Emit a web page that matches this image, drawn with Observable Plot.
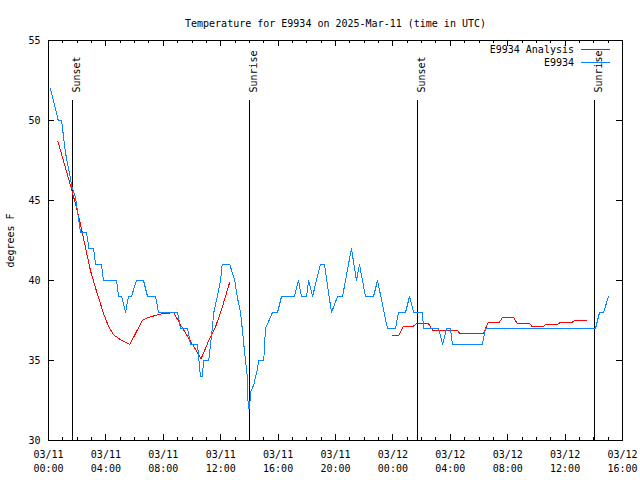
<!DOCTYPE html>
<html><head><meta charset="utf-8">
<script src="https://cdn.jsdelivr.net/npm/d3@7"></script>
<script src="https://cdn.jsdelivr.net/npm/@observablehq/plot@0.6"></script>
<style>
body{margin:0;background:#fff;}
#chart{position:relative;width:640px;height:480px;}
</style></head><body><div id="chart"></div>
<script>
const titleText = "Temperature for E9934 on 2025-Mar-11 (time in UTC)";
const yLabel = "degrees F";
const obsName = "E9934";
const anaName = "E9934 Analysis";

// hours after 2025-03-11 00:00 UTC
const obsHours = [0.14,0.68,0.91,1.18,1.65,1.88,2.23,2.65,2.82,3.14,
3.28,3.69,3.83,4.74,4.88,5.09,5.37,5.57,5.78,6.13,
6.62,6.90,7.46,7.67,8.99,9.20,9.69,9.90,10.38,10.59,
10.71,10.82,11.17,11.41,11.52,11.76,11.99,12.10,12.63,12.98,
13.15,13.38,13.50,13.61,13.85,13.92,14.01,14.08,14.31,14.54,
14.65,15.00,15.12,15.61,15.96,16.24,17.14,17.42,17.63,17.98,
18.12,18.40,18.95,19.23,19.72,20.14,20.49,21.11,21.46,21.67,
22.09,22.65,22.93,23.62,24.18,24.39,24.88,25.16,25.44,26.06,
26.13,27.18,27.46,27.74,28.01,28.15,30.24,30.45,38.12,38.40,
38.68,39.02];
const obsTemps = [52,50,50,48,45.8,45.2,43,43,42,42,
41,41,40,40,39,39,38,39,39,40,
40,39,39,38,38,37,37,36,36,34,
34,35,35,37,38,39,40,41,41,40,
39,38,37,36,34,32,32,33,33.5,34.4,
35,35,37,38,38,39,39,40,39,39,
40,39,41,41,38,39,39,42,40,41,
39,39,40,37,37,38,38,39,38,38,
37,37,36,37,37,36,36,37,37,38,
38,39];

const anaHours1 = [0.65,1.64,2.11,2.93,3.39,3.85,4.20,4.55,5.02,5.67,6.53,6.99,7.80,8.73,9.15,10.24,10.63,11.17,11.64,12.10,12.63];
const anaTemps1 = [48.7,45.6,44.0,40.6,39.2,37.9,37.1,36.6,36.3,36.0,37.5,37.7,37.9,38.0,37.3,35.7,35.1,36.25,37.1,38.3,39.9];
const anaHours2 = [23.97,24.39,24.74,25.44,25.64,26.48,26.76,28.50,28.64,30.31,30.66,31.43,31.64,32.40,32.68,33.52,33.73,34.49,34.63,35.47,35.68,36.52,36.66,37.49];
const anaTemps2 = [36.55,36.55,37.15,37.15,37.3,37.3,36.9,36.9,36.7,36.7,37.4,37.4,37.7,37.7,37.3,37.3,37.1,37.1,37.25,37.25,37.4,37.4,37.5,37.5];

const sunHours = [1.69,14.01,25.71,38.05];
const sunLabels = ["Sunset","Sunrise","Sunset","Sunrise"];

const yTicks = [30,35,40,45,50,55];
const xMajorHours = [0,4,8,12,16,20,24,28,32,36,40];
const xTickDay = ["03/11","03/11","03/11","03/11","03/11","03/11","03/12","03/12","03/12","03/12","03/12"];
const xTickTime = ["00:00","04:00","08:00","12:00","16:00","20:00","00:00","04:00","08:00","12:00","16:00"];
const xMinorHours = d3.range(0, 41, 1);

const base = Date.UTC(2025, 2, 11);
const toDate = h => new Date(base + h * 3600e3);

const obs = obsHours.map((h, i) => ({t: toDate(h), v: obsTemps[i]}));
const ana = [
  ...anaHours1.map((h, i) => ({t: toDate(h), v: anaTemps1[i], seg: 1})),
  ...anaHours2.map((h, i) => ({t: toDate(h), v: anaTemps2[i], seg: 2}))
];

const W = 640, H = 480, ML = 48, MR = 18, MT = 40, MB = 40;
const PW = W - ML - MR, PH = H - MT - MB;
const BLUE = "#0a84ff", RED = "#ff0000";
const FONT = "DejaVu Sans Mono";

const majors = xMajorHours.map(toDate);
const minors = xMinorHours.map(toDate);

const chart = Plot.plot({
  width: W, height: H,
  marginLeft: ML, marginRight: MR, marginTop: MT, marginBottom: MB,
  style: {fontFamily: FONT, fontSize: "10px", background: "#fff", color: "#000"},
  x: {type: "utc", domain: [toDate(0), toDate(40)]},
  y: {domain: [30, 55]},
  marks: [
    Plot.ruleX(minors, {insetTop: PH - 3, stroke: "#000", shapeRendering: "crispEdges"}),
    Plot.ruleX(minors, {insetBottom: PH - 3, stroke: "#000", shapeRendering: "crispEdges"}),
    Plot.ruleX(majors, {insetTop: PH - 6, stroke: "#000", shapeRendering: "crispEdges"}),
    Plot.ruleX(majors, {insetBottom: PH - 6, stroke: "#000", shapeRendering: "crispEdges"}),
    Plot.ruleY(yTicks, {insetRight: PW - 6, stroke: "#000", shapeRendering: "crispEdges"}),
    Plot.ruleY(yTicks, {insetLeft: PW - 6, stroke: "#000", shapeRendering: "crispEdges"}),
    Plot.axisX(majors, {
      tickSize: 0, tickPadding: 8, lineHeight: 1.35,
      tickFormat: d => {
        const i = xMajorHours.indexOf(Math.round((d - base) / 3600e3));
        return xTickDay[i] + "\n" + xTickTime[i];
      },
      label: null
    }),
    Plot.axisY(yTicks, {
      tickSize: 0, tickPadding: 8,
      label: yLabel, labelAnchor: "center", labelArrow: "none", labelOffset: 42
    }),
    Plot.ruleX(sunHours.map(toDate), {insetTop: 60, stroke: "#000", shapeRendering: "crispEdges"}),
    Plot.text(sunHours, {
      x: toDate, text: (d, i) => sunLabels[i],
      frameAnchor: "top", dy: 52, rotate: -90, textAnchor: "start", fill: "#000"
    }),
    Plot.line(ana, {x: "t", y: "v", z: "seg", stroke: RED, strokeWidth: 1, shapeRendering: "crispEdges"}),
    Plot.line(obs, {x: "t", y: "v", stroke: BLUE, strokeWidth: 1, shapeRendering: "crispEdges"}),
    Plot.frame({stroke: "#000", shapeRendering: "crispEdges"}),
    Plot.text([titleText], {text: d => d, frameAnchor: "top", dy: -21, fill: "#000"})
  ]
});

// legend (top-right, inside the frame)
const svg = d3.select(chart);
const legend = [
  {name: anaName, color: RED, y: 50},
  {name: obsName, color: BLUE, y: 63}
];
const lg = svg.append("g").attr("font-family", FONT).attr("font-size", 10);
legend.forEach(e => {
  lg.append("text").attr("x", 574).attr("y", e.y).attr("dy", "0.32em")
    .attr("text-anchor", "end").attr("fill", "#000").text(e.name);
  lg.append("line").attr("x1", 581).attr("x2", 610).attr("y1", e.y - 0.5).attr("y2", e.y - 0.5)
    .attr("stroke", e.color).attr("stroke-width", 1).attr("shape-rendering", "crispEdges");
});

document.getElementById("chart").appendChild(chart);
</script>
</body></html>
